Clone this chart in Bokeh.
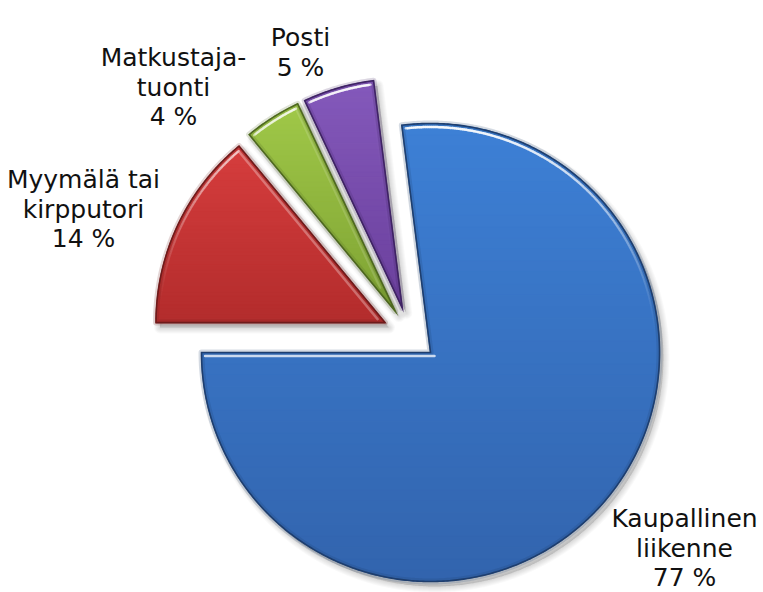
import numpy as np
from bokeh.plotting import figure
from bokeh.models import Range1d
from bokeh.core.properties import value
from bokeh.embed import file_html
from bokeh.resources import INLINE

# ---------------- data ----------------
categories = ["Kaupallinen\nliikenne", "Posti", "Matkustaja-\ntuonti", "Myymälä tai\nkirpputori"]
values = [77, 5, 4, 14]
pct_labels = ["77 %", "5 %", "4 %", "14 %"]

# ---------------- styles / layout ----------------
top_colors = ["#3d80d6", "#8459bb", "#a0c848", "#d63d3d"]
bottom_colors = ["#3264ad", "#6a3f9c", "#7ea233", "#b32c2c"]
rim_colors = ["#1d3c6a", "#3c2260", "#4b6420", "#6a1a1a"]

W, H = 763, 592
CX, CY = 409.4, 333.8      # pie centre in page pixels
R = 229.0                  # radius in pixels
EXPLODE = 27.5             # explosion distance
START = 180.0              # first slice starts at 9 o'clock, anticlockwise
label_pos = [(684, 518), (300, 37), (173, 57), (83, 179)]
LINE_H = 29.5
FONT = "DejaVu Sans"
FONT_SIZE = "25px"


def hex2rgb(h):
    h = h.lstrip("#")
    return np.array([int(h[i:i + 2], 16) for i in (0, 2, 4)], dtype=float)


def rgb2hex(c):
    c = np.clip(np.round(c), 0, 255).astype(int)
    return "#%02x%02x%02x" % tuple(c)


def clip_half(poly, y, keep_greater):
    out = []
    n = len(poly)
    for i in range(n):
        P = poly[i]
        Q = poly[(i + 1) % n]
        pin = P[1] >= y if keep_greater else P[1] <= y
        qin = Q[1] >= y if keep_greater else Q[1] <= y
        if pin:
            out.append(P)
        if pin != qin:
            t = (y - P[1]) / (Q[1] - P[1])
            out.append((P[0] + t * (Q[0] - P[0]), y))
    return out


p = figure(width=W, height=H, x_range=Range1d(0, W), y_range=Range1d(H, 0),
           output_backend="svg", toolbar_location=None, min_border=0,
           x_axis_location=None, y_axis_location=None)
p.grid.visible = False
p.outline_line_color = None
p.background_fill_color = "white"
p.border_fill_color = "white"

vals = np.array(values, dtype=float)
fr = vals / vals.sum()
starts = START + 360.0 * np.concatenate([[0], np.cumsum(fr)[:-1]])
ends = starts + 360.0 * fr

polys = []
apexes = []
for s, e in zip(starts, ends):
    mid = np.radians((s + e) / 2)
    ax = CX + EXPLODE * np.cos(mid)
    ay = CY - EXPLODE * np.sin(mid)
    th = np.radians(np.linspace(s, e, max(10, int(e - s) * 2)))
    pts = [(ax, ay)] + [(ax + R * np.cos(t), ay - R * np.sin(t)) for t in th]
    polys.append(pts)
    apexes.append((ax, ay))

# soft shadows
for pts in polys:
    xs = [q[0] + 4 for q in pts]
    ys = [q[1] + 5 for q in pts]
    for k in range(6):
        p.patch(xs, ys, fill_color="#000000", fill_alpha=0.025,
                line_color="#000000", line_alpha=0.025, line_width=2 + 2 * k, line_join="round")

# gradient fill
NB = 40
for i, pts in enumerate(polys):
    ys_all = [q[1] for q in pts]
    y0, y1 = min(ys_all), max(ys_all)
    c0, c1 = hex2rgb(top_colors[i]), hex2rgb(bottom_colors[i])
    edges = np.linspace(y0, y1, NB + 1)
    bx, by, bc = [], [], []
    for b in range(NB):
        part = clip_half(pts, edges[b], True)
        part = clip_half(part, edges[b + 1], False)
        if len(part) < 3:
            continue
        f = (b + 0.5) / NB
        col = rgb2hex(c0 + (c1 - c0) * f)
        bx.append([q[0] for q in part])
        by.append([q[1] for q in part])
        bc.append(col)
    p.patches(bx, by, fill_color=bc, line_color=bc, line_width=1.2)

# rims and highlights
D = 3.5
for i, pts in enumerate(polys):
    s, e = starts[i], ends[i]
    ax, ay = apexes[i]
    xs = [q[0] for q in pts]
    ys = [q[1] for q in pts]
    p.patch(xs, ys, fill_alpha=0, line_color=rim_colors[i], line_alpha=0.18, line_width=6, line_join="round")
    p.patch(xs, ys, fill_alpha=0, line_color=rim_colors[i], line_alpha=0.95, line_width=1.6, line_join="miter")

    half = np.radians((e - s) / 2)
    mid = np.radians((s + e) / 2)
    dist = D / np.sin(half)
    ix = ax + dist * np.cos(mid)
    iy = ay - dist * np.sin(mid)
    trim = np.degrees(np.arcsin(D / (R - D)))
    th = np.radians(np.linspace(s + trim, e - trim, max(10, int(e - s) * 2)))
    ip = [(ix, iy)] + [(ax + (R - D) * np.cos(t), ay - (R - D) * np.sin(t)) for t in th]
    x0s, y0s, x1s, y1s, al = [], [], [], [], []
    n = len(ip)
    for k in range(n):
        P = ip[k]
        Q = ip[(k + 1) % n]
        if k == 0:
            up = np.sin(np.radians(s - 90))
        elif k == n - 1:
            up = np.sin(np.radians(e + 90))
        else:
            up = np.sin((th[k - 1] + th[k]) / 2)
        a = max(up, 0) ** 2 * 0.75
        x0s.append(P[0]); y0s.append(P[1]); x1s.append(Q[0]); y1s.append(Q[1]); al.append(a)
    p.segment(x0s, y0s, x1s, y1s, line_color="#ffffff", line_alpha=al, line_width=2.5, line_cap="round")

# labels
tx, ty, tt = [], [], []
for i, cat in enumerate(categories):
    lines = cat.split("\n") + [pct_labels[i]]
    cx, by0 = label_pos[i]
    for j, ln in enumerate(lines):
        tx.append(cx)
        ty.append(by0 + j * LINE_H)
        tt.append(ln)
p.text(tx, ty, text=tt, text_align="center", text_baseline="alphabetic",
       text_font=value(FONT), text_font_size=FONT_SIZE, text_color="#111111")

open("out.html", "w").write(file_html(p, INLINE))
